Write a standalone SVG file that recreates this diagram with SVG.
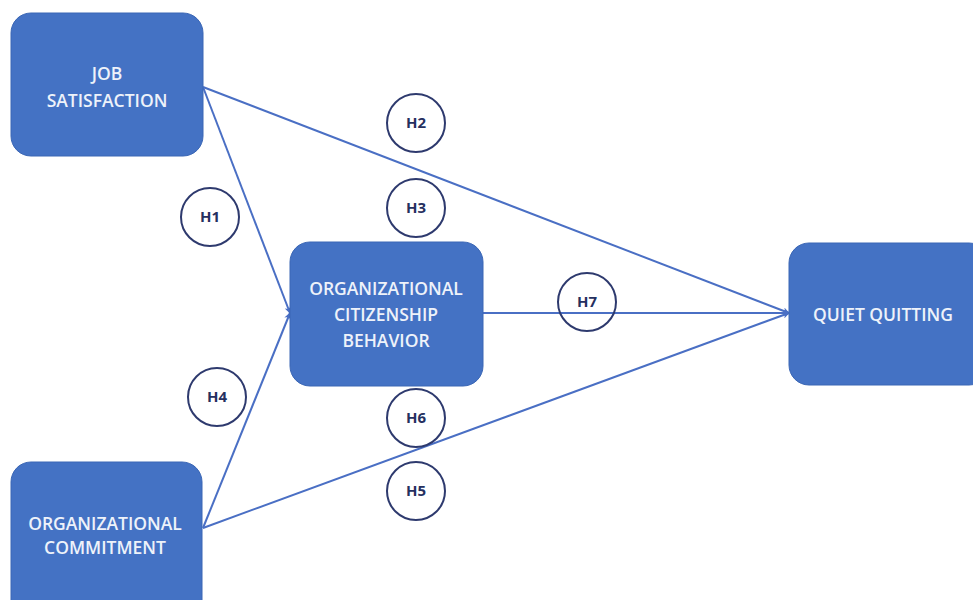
<svg xmlns="http://www.w3.org/2000/svg" width="973" height="600" viewBox="0 0 973 600">
  <style>
    .box { fill: #4472C4; stroke: #3A66B5; stroke-width: 1; }
    .lbl { font-family: "Open Sans", "Liberation Sans", Arial, sans-serif; font-size: 17.5px; font-weight: 600; fill: #EEF2FA; text-anchor: middle; }
    .edge { stroke: #4A6FC4; stroke-width: 2; fill: none; marker-end: url(#arrow); }
    .hyp { fill: none; stroke: #2E3A6E; stroke-width: 2; }
    .htxt { font-family: "Open Sans", "Liberation Sans", Arial, sans-serif; font-size: 15px; font-weight: bold; fill: #25305F; text-anchor: middle; }
  </style>
  <defs>
    <marker id="arrow" viewBox="0 0 10 10" refX="9" refY="5" markerWidth="7" markerHeight="7" markerUnits="userSpaceOnUse" orient="auto">
      <path d="M0,0 L10,5 L0,10 L3,5 Z" fill="#4A6FC4"/>
    </marker>
  </defs>
  <rect width="973" height="600" fill="#FFFFFF"/>

  <g id="connectors">
    <line class="edge" x1="203" y1="87" x2="789" y2="313"/>
    <line class="edge" x1="203" y1="87" x2="290" y2="313"/>
    <line class="edge" x1="203" y1="528" x2="290" y2="313"/>
    <line class="edge" x1="203" y1="528" x2="789" y2="313"/>
    <line class="edge" x1="483" y1="313" x2="789" y2="313"/>
  </g>

  <g id="job-satisfaction">
    <rect class="box" x="11" y="13" width="192" height="143" rx="20"/>
    <text class="lbl" x="107" y="80">JOB</text>
    <text class="lbl" x="107" y="107">SATISFACTION</text>
  </g>

  <g id="ocb">
    <rect class="box" x="290" y="242" width="193" height="144" rx="20"/>
    <text class="lbl" x="386" y="295">ORGANIZATIONAL</text>
    <text class="lbl" x="386" y="321">CITIZENSHIP</text>
    <text class="lbl" x="386" y="347">BEHAVIOR</text>
  </g>

  <g id="quiet-quitting">
    <rect class="box" x="789" y="243" width="200" height="142" rx="20"/>
    <text class="lbl" x="883" y="321">QUIET QUITTING</text>
  </g>

  <g id="org-commitment">
    <rect class="box" x="11" y="462" width="191" height="160" rx="20"/>
    <text class="lbl" x="105" y="530">ORGANIZATIONAL</text>
    <text class="lbl" x="105" y="554">COMMITMENT</text>
  </g>

  <g id="h1"><circle class="hyp" cx="210" cy="217" r="29"/><text class="htxt" x="210" y="222">H1</text></g>
  <g id="h2"><circle class="hyp" cx="416" cy="123" r="29"/><text class="htxt" x="416" y="128">H2</text></g>
  <g id="h3"><circle class="hyp" cx="416" cy="208" r="29"/><text class="htxt" x="416" y="213">H3</text></g>
  <g id="h4"><circle class="hyp" cx="217" cy="397" r="29"/><text class="htxt" x="217" y="402">H4</text></g>
  <g id="h5"><circle class="hyp" cx="416" cy="491" r="29"/><text class="htxt" x="416" y="496">H5</text></g>
  <g id="h6"><circle class="hyp" cx="416" cy="418" r="29"/><text class="htxt" x="416" y="423">H6</text></g>
  <g id="h7"><circle class="hyp" cx="587" cy="302" r="29"/><text class="htxt" x="587" y="307">H7</text></g>
</svg>
